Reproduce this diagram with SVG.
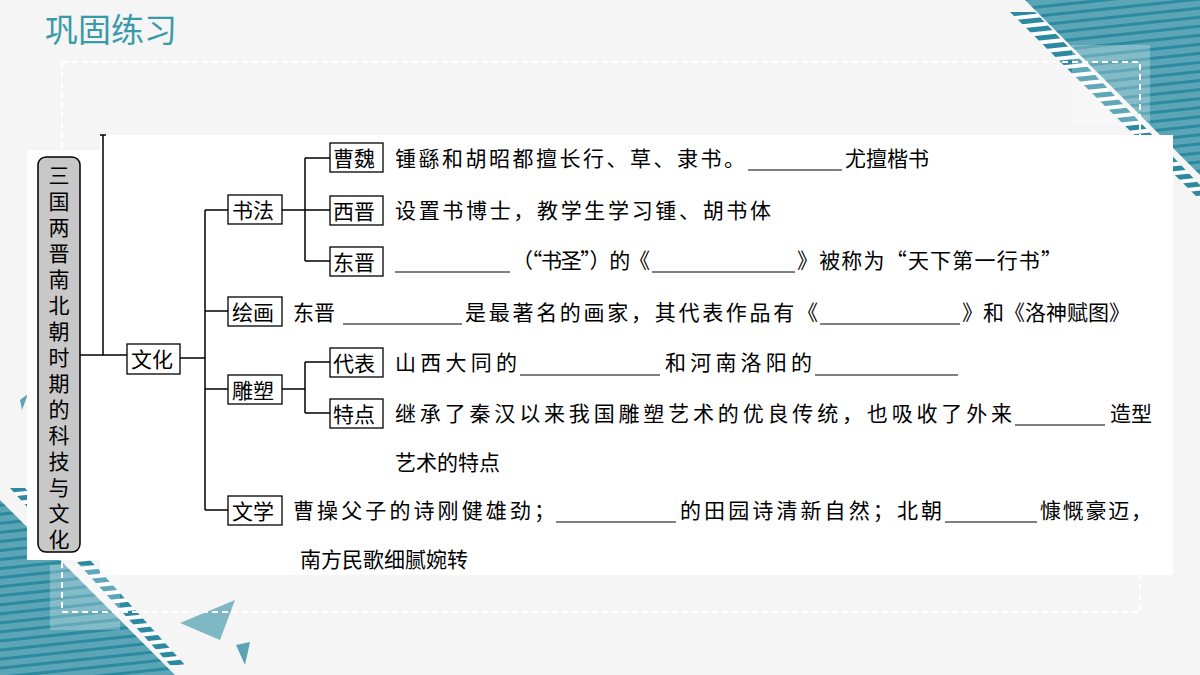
<svg xmlns="http://www.w3.org/2000/svg" width="1200" height="675" viewBox="0 0 1200 675">
<defs>
<style>
.t{font-family:"Noto Sans CJK SC","Liberation Sans",sans-serif;font-size:21px;fill:#000}
.b{fill:#fff;stroke:#000;stroke-width:1.3}
.c{fill:none;stroke:#000;stroke-width:1.5}
.u{stroke:#000;stroke-width:1}
</style>
<pattern id="stripes" width="12" height="9" patternUnits="userSpaceOnUse" patternTransform="rotate(-6)">
<rect width="12" height="9" fill="#5ba5b6"/><rect y="6" width="12" height="3" fill="#2b8aa0"/>
</pattern>
<pattern id="wst" width="12" height="9" patternUnits="userSpaceOnUse" patternTransform="rotate(-6)">
<rect width="12" height="9" fill="#2b8aa0"/><rect y="5" width="12" height="4" fill="#fff"/>
</pattern>
</defs>
<rect width="1200" height="675" fill="#f5f5f5"/>
<polygon points="1010,12 1035,12 1200,185 1200,200" fill="url(#wst)"/>
<polygon points="1025,0 1200,0 1200,175" fill="url(#stripes)"/>
<rect x="1072" y="45" width="78" height="80" fill="#fff" opacity="0.25"/>
<polygon points="10,488 25,488 185,665 170,665" fill="url(#wst)"/>
<polygon points="0,500 0,675 175,675" fill="url(#stripes)"/>
<rect x="50" y="565" width="70" height="65" fill="#fff" opacity="0.25"/>
<polygon points="180,623 235,600 220,640" fill="#7fb8c5"/>
<polygon points="236,645 250,642 245,665" fill="#5aa4b4"/>
<polygon points="20,400 28,394 22,410" fill="#5aa4b4"/>
<rect x="62" y="62" width="1078" height="550" fill="none" stroke="#fff" stroke-width="2" stroke-dasharray="6,4"/>
<text x="45" y="42" font-family="Noto Sans CJK SC,sans-serif" font-size="33" fill="#3a9aaa">巩固练习</text>
<rect x="100" y="135" width="1073" height="440" fill="#fff"/>
<rect x="27" y="150" width="75" height="410" fill="#fff"/>

<g id="root">
<rect x="38" y="157" width="42" height="395" rx="8" fill="#c8c8c8" stroke="#000" stroke-width="1.5"/>
<text class="t" font-size="22" text-anchor="middle">
<tspan x="59" y="183">三</tspan><tspan x="59" y="209">国</tspan><tspan x="59" y="235">两</tspan><tspan x="59" y="261">晋</tspan><tspan x="59" y="287">南</tspan><tspan x="59" y="313">北</tspan><tspan x="59" y="339">朝</tspan><tspan x="59" y="365">时</tspan><tspan x="59" y="391">期</tspan><tspan x="59" y="417">的</tspan><tspan x="59" y="443">科</tspan><tspan x="59" y="469">技</tspan><tspan x="59" y="495">与</tspan><tspan x="59" y="521">文</tspan><tspan x="59" y="547">化</tspan></text>
</g>

<g id="connectors">
<path class="c" d="M103,135 V355 H127" stroke-width="1"/>
<path class="c" d="M100,135 H106" stroke-width="1"/>
<path class="c" d="M80,355 H103"/>
<path class="c" d="M180,358 H205 M205,210 V510" stroke-width="1"/>
<path class="c" d="M205,210 H228 M205,311 H228 M205,389 H228 M205,510 H228"/>
<path class="c" d="M282,210 H330 M305,158 V261" stroke-width="1"/>
<path class="c" d="M305,158 H330 M305,261 H330"/>
<path class="c" d="M282,389 H305 M305,362 V413" stroke-width="1"/>
<path class="c" d="M305,362 H330 M305,413 H330"/>
</g>

<g id="wenhua"><rect class="b" x="127" y="344" width="53" height="30"/><text class="t" x="131" y="367">文化</text></g>
<g id="shufa"><rect class="b" x="228" y="195" width="54" height="29"/><text class="t" x="232" y="218">书法</text></g>
<g id="huihua"><rect class="b" x="228" y="297" width="54" height="29"/><text class="t" x="232" y="320">绘画</text></g>
<g id="diaosu"><rect class="b" x="228" y="375" width="54" height="29"/><text class="t" x="232" y="398">雕塑</text></g>
<g id="wenxue"><rect class="b" x="228" y="496" width="54" height="29"/><text class="t" x="232" y="519">文学</text></g>
<g id="caowei"><rect class="b" x="330" y="143" width="53" height="29"/><text class="t" x="333" y="166">曹魏</text></g>
<g id="xijin"><rect class="b" x="330" y="196" width="53" height="29"/><text class="t" x="333" y="219">西晋</text></g>
<g id="dongjin"><rect class="b" x="330" y="247" width="53" height="29"/><text class="t" x="333" y="270">东晋</text></g>
<g id="daibiao"><rect class="b" x="330" y="348" width="53" height="29"/><text class="t" x="333" y="371">代表</text></g>
<g id="tedian"><rect class="b" x="330" y="399" width="53" height="29"/><text class="t" x="333" y="422">特点</text></g>

<g id="texts">
<text class="t" x="395" y="166" textLength="350">锺繇和胡昭都擅长行、草、隶书。</text>
<line class="u" x1="748" y1="170" x2="842" y2="170"/>
<text class="t" x="845" y="166">尤擅楷书</text>
<text class="t" x="395" y="218" textLength="376">设置书博士，教学生学习锺、胡书体</text>
<line class="u" x1="395" y1="272" x2="510" y2="272"/>
<text class="t" x="512" y="268" textLength="138">（“书圣”）的《</text>
<line class="u" x1="652" y1="272" x2="795" y2="272"/>
<text class="t" x="797" y="268" textLength="265">》被称为“天下第一行书”</text>
<text class="t" x="293" y="320">东晋</text>
<line class="u" x1="343" y1="324" x2="462" y2="324"/>
<text class="t" x="465" y="320" textLength="353">是最著名的画家，其代表作品有《</text>
<line class="u" x1="820" y1="324" x2="960" y2="324"/>
<text class="t" x="962" y="320" textLength="168">》和《洛神赋图》</text>
<text class="t" x="395" y="370" textLength="122">山西大同的</text>
<line class="u" x1="520" y1="375" x2="660" y2="375"/>
<text class="t" x="665" y="370" textLength="147">和河南洛阳的</text>
<line class="u" x1="815" y1="375" x2="958" y2="375"/>
<text class="t" x="395" y="421" textLength="617">继承了秦汉以来我国雕塑艺术的优良传统，也吸收了外来</text>
<line class="u" x1="1015" y1="425" x2="1105" y2="425"/>
<text class="t" x="1110" y="421">造型</text>
<text class="t" x="395" y="470">艺术的特点</text>
<text class="t" x="293" y="518" textLength="262">曹操父子的诗刚健雄劲；</text>
<line class="u" x1="556" y1="522" x2="676" y2="522"/>
<text class="t" x="680" y="518" textLength="262">的田园诗清新自然；北朝</text>
<line class="u" x1="945" y1="522" x2="1037" y2="522"/>
<text class="t" x="1040" y="518" textLength="112">慷慨豪迈，</text>
<text class="t" x="300" y="567">南方民歌细腻婉转</text>
</g>
</svg>
